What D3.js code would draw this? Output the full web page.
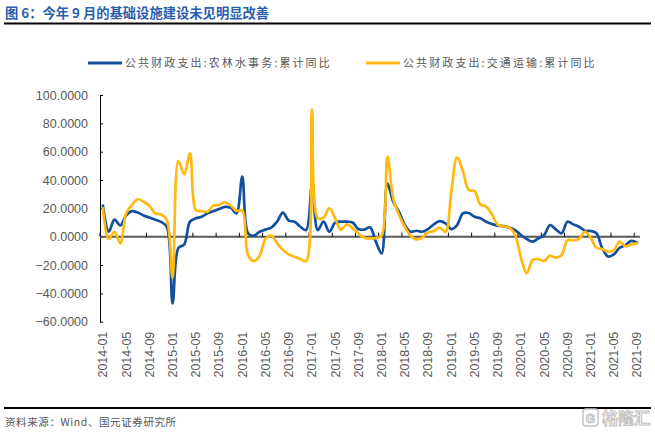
<!DOCTYPE html>
<html><head><meta charset="utf-8">
<script src="https://cdn.jsdelivr.net/npm/d3@7/dist/d3.min.js"></script>
<style>
html,body{margin:0;padding:0;background:#fff;}
svg{display:block;}
</style></head>
<body>
<svg id="c" width="655" height="434"></svg>
<script>
const title = "图 6：今年 9 月的基础设施建设未见明显改善";
const source = "资料来源：Wind、国元证券研究所";
const seriesNames = ["公共财政支出:农林水事务:累计同比", "公共财政支出:交通运输:累计同比"];
const yTicks = [-60, -40, -20, 0, 20, 40, 60, 80, 100];
const categories = d3.timeMonth.range(new Date(2014, 0, 1), new Date(2021, 9, 1)).map(d3.timeFormat("%Y-%m"));
const tickLabels = categories.filter((d, i) => i % 4 === 0);

const agri = [22,3.5,12,8,15,18,17,15,13.5,12,10.4,7,-47,-8,-5.5,10.6,13,14,16.5,18,19.5,21,20.5,16.5,
  42.4,2.4,0.7,3.5,5,6.4,10.6,17,11.3,10.6,7,4.7,35.3,4.7,10.6,3.5,10,10.6,10.6,10,5.4,5,6.6,-3.5,
  -11.8,37.6,24.7,17.6,8.2,3.5,4.2,3.5,5.4,8.7,11,9.4,5.4,8.2,16.5,16.7,14,13,10.6,9,7.8,7.5,6.4,4.7,
  1.2,-1.6,-3.5,-1.2,1.2,8.2,5.2,2.4,10.6,8.7,7,4.2,4,2.4,-8.2,-14,-12.5,-7.8,-5.9,-3,-4.2];
const transport = [20,-1.6,3.5,-4.7,16.5,22.4,26.4,24.7,21.9,16.5,15.8,11.8,-29,53.4,44,58.8,18.8,18.1,17.6,21.9,22.4,24.2,22,18.2,
  18.5,-13,-17.2,-13.4,-1.6,0.7,-4.7,-9.4,-12.5,-14.1,-15.8,-17.2,90,13,13.4,20,13,4.7,8.7,5.9,2.4,-0.7,-1.2,-1,
  0.7,56.5,27,15.3,7,0.7,-1.9,-0.7,3,4,6.4,3.5,31.8,56,46.4,33,32.2,22.8,21.2,15.8,8.5,7.4,6.4,1.2,
  -14.8,-25.9,-16.5,-15.8,-17.2,-13.4,-14.8,-12.9,-2.6,-2.6,-1.6,3.5,-0.7,-7.8,-8.7,-10.6,-9.4,-3.5,-6.8,-5.4,-4.7];
const colors = ["#134f9f", "#ffb90f"];

const svg = d3.select("#c");
const L = 100, R = 640, T = 95, B = 321.7;
const x = d3.scaleBand().domain(categories).range([L, R]).padding(0);
const y = d3.scaleLinear().domain([-60, 100]).range([B, T]);
const cx = d => x(d) + x.bandwidth() / 2;

// title
svg.append("text").attr("x", 5).attr("y", 18).text(title)
  .attr("font-family", "'Noto Sans CJK SC', sans-serif").attr("font-weight", "bold")
  .attr("font-size", 13.3).attr("fill", "#2a5fae");
svg.append("line").attr("x1", 4).attr("x2", 651).attr("y1", 23.5).attr("y2", 23.5)
  .attr("stroke", "#000").attr("stroke-width", 2);

// legend
const lg = [{x: 88, tx: 125}, {x: 366, tx: 403}];
seriesNames.forEach((n, i) => {
  svg.append("line").attr("x1", lg[i].x).attr("x2", lg[i].x + 34).attr("y1", 63).attr("y2", 63)
    .attr("stroke", colors[i]).attr("stroke-width", 3);
  svg.append("text").attr("x", lg[i].tx).attr("y", 67).text(n)
    .attr("font-family", "'Noto Sans CJK SC', sans-serif").attr("font-size", 11)
    .attr("letter-spacing", 2.1).attr("fill", "#595959");
});

// y axis
const ya = svg.append("g").attr("transform", `translate(${L},0)`)
  .call(d3.axisLeft(y).tickValues(yTicks).tickFormat(d3.format(".4f")).tickSizeInner(-3).tickSizeOuter(0).tickPadding(12));
ya.select(".domain").attr("stroke", "#000").attr("stroke-width", 1);
ya.selectAll(".tick line").attr("stroke", "#000");
ya.selectAll("text").attr("font-family", "'Liberation Sans', Arial, sans-serif").attr("font-size", 12.5).attr("fill", "#595959");

// zero line with ticks
svg.append("line").attr("x1", L).attr("x2", R).attr("y1", y(0)).attr("y2", y(0))
  .attr("stroke", "#595959").attr("stroke-width", 2);
svg.append("g").selectAll("line").data(tickLabels).join("line")
  .attr("x1", d => x(d)).attr("x2", d => x(d)).attr("y1", y(0)).attr("y2", y(0) - 4)
  .attr("stroke", "#000").attr("stroke-width", 1);

// x labels
const xa = svg.append("g").attr("transform", `translate(0,${B + 8})`)
  .call(d3.axisBottom(x).tickValues(tickLabels).tickSize(0).tickPadding(0));
xa.select(".domain").remove();
xa.selectAll(".tick text").attr("font-family", "'Liberation Sans', Arial, sans-serif").attr("font-size", 12.5)
  .attr("fill", "#595959").attr("transform", "rotate(-90)").attr("text-anchor", "end")
  .attr("dy", "0.35em").attr("x", -2).attr("y", 0);

// lines
const line = d3.line().x((d, i) => cx(categories[i])).y(d => y(d)).curve(d3.curveCatmullRom.alpha(0.5));
[agri, transport].forEach((s, i) => {
  svg.append("path").datum(s).attr("d", line).attr("fill", "none")
    .attr("stroke", colors[i]).attr("stroke-width", 2.7).attr("stroke-linejoin", "round").attr("stroke-linecap", "round");
});

// footer
svg.append("line").attr("x1", 4).attr("x2", 651).attr("y1", 408).attr("y2", 408)
  .attr("stroke", "#000").attr("stroke-width", 2);
svg.append("text").attr("x", 5).attr("y", 426).text(source)
  .attr("font-family", "'Noto Sans CJK SC', sans-serif").attr("font-size", 10.5)
  .attr("letter-spacing", 0.6).attr("fill", "#555");

// watermark
const wm = svg.append("g").attr("transform", "translate(583,409)");
wm.append("rect").attr("x", 0).attr("y", 0).attr("width", 15).attr("height", 17).attr("rx", 3)
  .attr("fill", "#fff").attr("stroke", "#c4c4c4").attr("stroke-width", 1.5);
wm.append("text").attr("x", 7.5).attr("y", 13.5).attr("text-anchor", "middle").text("G")
  .attr("font-family", "'Liberation Sans', sans-serif").attr("font-weight", "bold").attr("font-size", 12)
  .attr("fill", "#fff").attr("stroke", "#bdbdbd").attr("stroke-width", 1);
wm.append("text").attr("x", 19).attr("y", 15).text("格隆汇")
  .attr("font-family", "'Noto Sans CJK SC', sans-serif").attr("font-weight", "bold").attr("font-size", 16)
  .attr("fill", "#fff").attr("stroke", "#c0c0c0").attr("stroke-width", 1);
</script>
</body></html>
